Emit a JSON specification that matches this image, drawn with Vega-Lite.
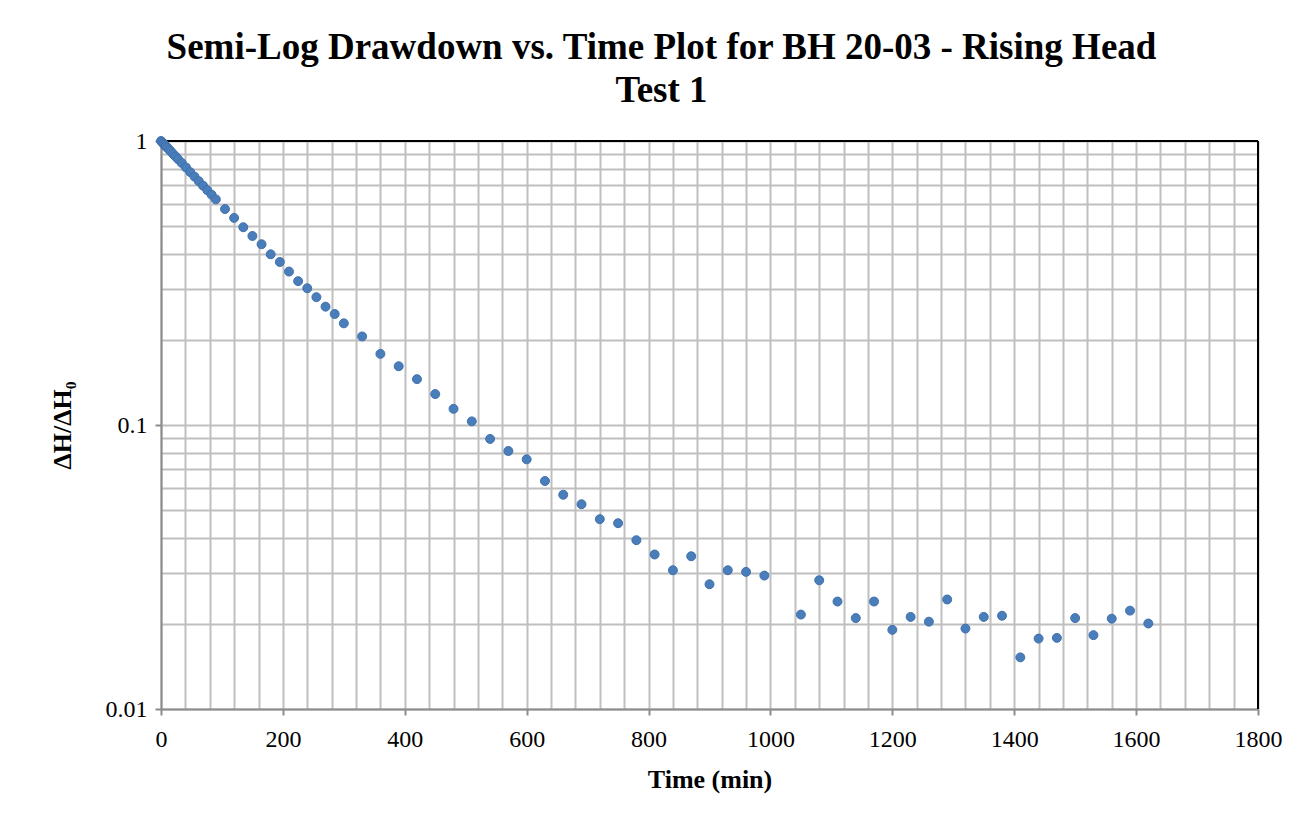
{
  "$schema": "https://vega.github.io/schema/vega-lite/v6.json",
  "width": 1097,
  "height": 568,
  "autosize": {"type": "none"},
  "padding": {"left": 161, "top": 141, "right": 55, "bottom": 113},
  "background": "white",
  "title": {
    "text": ["Semi-Log Drawdown vs. Time Plot for BH 20-03 - Rising Head", "Test 1"],
    "font": "Liberation Serif",
    "fontSize": 37,
    "fontWeight": "bold",
    "lineHeight": 43,
    "color": "#000000",
    "anchor": "middle",
    "frame": "group",
    "dx": -48,
    "offset": 19
  },
  "config": {
    "view": {"stroke": null},
    "axis": {
      "labelFont": "Liberation Serif",
      "titleFont": "Liberation Serif",
      "labelColor": "#000000",
      "titleColor": "#000000"
    }
  },
  "data": {
    "values": [
      {"t": 0, "r": 1.0}, {"t": 2, "r": 0.9896}, {"t": 4, "r": 0.979}, {"t": 6, "r": 0.969},
      {"t": 8, "r": 0.959}, {"t": 10, "r": 0.949}, {"t": 13, "r": 0.934}, {"t": 16, "r": 0.92},
      {"t": 20, "r": 0.9}, {"t": 24, "r": 0.882}, {"t": 28, "r": 0.863}, {"t": 34, "r": 0.837},
      {"t": 41, "r": 0.807}, {"t": 48, "r": 0.777}, {"t": 55, "r": 0.749}, {"t": 62, "r": 0.722},
      {"t": 69, "r": 0.696}, {"t": 76, "r": 0.671}, {"t": 83, "r": 0.647}, {"t": 90, "r": 0.623},
      {"t": 105, "r": 0.576}, {"t": 120, "r": 0.536}, {"t": 135, "r": 0.497}, {"t": 150, "r": 0.463},
      {"t": 165, "r": 0.433}, {"t": 180, "r": 0.399}, {"t": 195, "r": 0.375}, {"t": 210, "r": 0.347},
      {"t": 225, "r": 0.321}, {"t": 240, "r": 0.303}, {"t": 255, "r": 0.282}, {"t": 270, "r": 0.261},
      {"t": 285, "r": 0.246}, {"t": 300, "r": 0.228}, {"t": 330, "r": 0.205}, {"t": 360, "r": 0.178},
      {"t": 390, "r": 0.161}, {"t": 420, "r": 0.145}, {"t": 450, "r": 0.1285}, {"t": 480, "r": 0.114},
      {"t": 510, "r": 0.103}, {"t": 540, "r": 0.0893}, {"t": 570, "r": 0.081}, {"t": 600, "r": 0.0757},
      {"t": 630, "r": 0.0635}, {"t": 660, "r": 0.0568}, {"t": 690, "r": 0.0526}, {"t": 720, "r": 0.0466},
      {"t": 750, "r": 0.0451}, {"t": 780, "r": 0.0393}, {"t": 810, "r": 0.035}, {"t": 840, "r": 0.0308},
      {"t": 870, "r": 0.0345}, {"t": 900, "r": 0.0275}, {"t": 930, "r": 0.0308}, {"t": 960, "r": 0.0304},
      {"t": 990, "r": 0.0295}, {"t": 1050, "r": 0.0215}, {"t": 1080, "r": 0.0284}, {"t": 1110, "r": 0.0239},
      {"t": 1140, "r": 0.0209}, {"t": 1170, "r": 0.0239}, {"t": 1200, "r": 0.019}, {"t": 1230, "r": 0.0211},
      {"t": 1260, "r": 0.0203}, {"t": 1290, "r": 0.0243}, {"t": 1320, "r": 0.0192}, {"t": 1350, "r": 0.0211},
      {"t": 1380, "r": 0.0213}, {"t": 1410, "r": 0.0152}, {"t": 1440, "r": 0.0177}, {"t": 1470, "r": 0.0178},
      {"t": 1500, "r": 0.0209}, {"t": 1530, "r": 0.0182}, {"t": 1560, "r": 0.0208}, {"t": 1590, "r": 0.0222},
      {"t": 1620, "r": 0.02}
    ]
  },
  "layer": [
    {
      "mark": {"type": "rule", "color": "#000000", "strokeWidth": 2},
      "encoding": {"y": {"datum": 1, "type": "quantitative"}}
    },
    {
      "mark": {"type": "rule", "color": "#000000", "strokeWidth": 2},
      "encoding": {"x": {"datum": 1800, "type": "quantitative"}}
    },
    {
      "mark": {"type": "point", "filled": true, "shape": "circle", "size": 80, "color": "#4A7EBB", "stroke": "#3F70AE", "strokeWidth": 1, "opacity": 1},
      "encoding": {
        "x": {
          "field": "t",
          "type": "quantitative",
          "scale": {"domain": [0, 1800], "nice": false, "zero": false},
          "axis": {
            "title": "Time (min)",
            "titleFontSize": 26,
            "titleFontWeight": "bold",
            "titleX": 548.5,
            "titleY": 70,
            "titleBaseline": "middle",
            "tickCount": 200,
            "values": [0, 40, 80, 120, 160, 200, 240, 280, 320, 360, 400, 440, 480, 520, 560, 600, 640, 680, 720, 760, 800, 840, 880, 920, 960, 1000, 1040, 1080, 1120, 1160, 1200, 1240, 1280, 1320, 1360, 1400, 1440, 1480, 1520, 1560, 1600, 1640, 1680, 1720, 1760, 1800],
            "labelExpr": "datum.value % 200 === 0 ? datum.label : ''",
            "format": "d",
            "labelFontSize": 24,
            "labelPadding": 12,
            "labelFlush": false,
            "labelOverlap": false,
            "grid": true,
            "gridColor": "#BFBFBF",
            "gridWidth": 2,
            "domainColor": "#8C8C8C",
            "domainWidth": 2,
            "tickColor": "#8C8C8C",
            "tickWidth": 2,
            "tickSize": 6,
            "tickOpacity": {"condition": {"test": "datum.value % 200 === 0", "value": 1}, "value": 0}
          }
        },
        "y": {
          "field": "r",
          "type": "quantitative",
          "scale": {"type": "log", "domain": [0.01, 1], "nice": false},
          "axis": {
            "title": "ΔH/ΔH₀",
            "titleFontSize": 26,
            "titleFontWeight": "bold",
            "titleX": -99,
            "titleY": 284,
            "titleAngle": -90,
            "titleAlign": "center",
            "titleBaseline": "middle",
            "tickCount": 200,
            "values": [0.01, 0.02, 0.03, 0.04, 0.05, 0.06, 0.07, 0.08, 0.09, 0.1, 0.2, 0.3, 0.4, 0.5, 0.6, 0.7, 0.8, 0.9, 1],
            "labelExpr": "datum.value === 1 ? '1' : datum.value === 0.1 ? '0.1' : datum.value === 0.01 ? '0.01' : ''",
            "labelFontSize": 24,
            "labelPadding": 8,
            "labelFlush": false,
            "labelOverlap": false,
            "grid": true,
            "gridColor": "#BFBFBF",
            "gridWidth": 2,
            "domainColor": "#8C8C8C",
            "domainWidth": 2,
            "tickColor": "#8C8C8C",
            "tickWidth": 2,
            "tickSize": 6,
            "tickOpacity": {"condition": {"test": "datum.value === 1 || datum.value === 0.1 || datum.value === 0.01", "value": 1}, "value": 0}
          }
        }
      }
    }
  ]
}
